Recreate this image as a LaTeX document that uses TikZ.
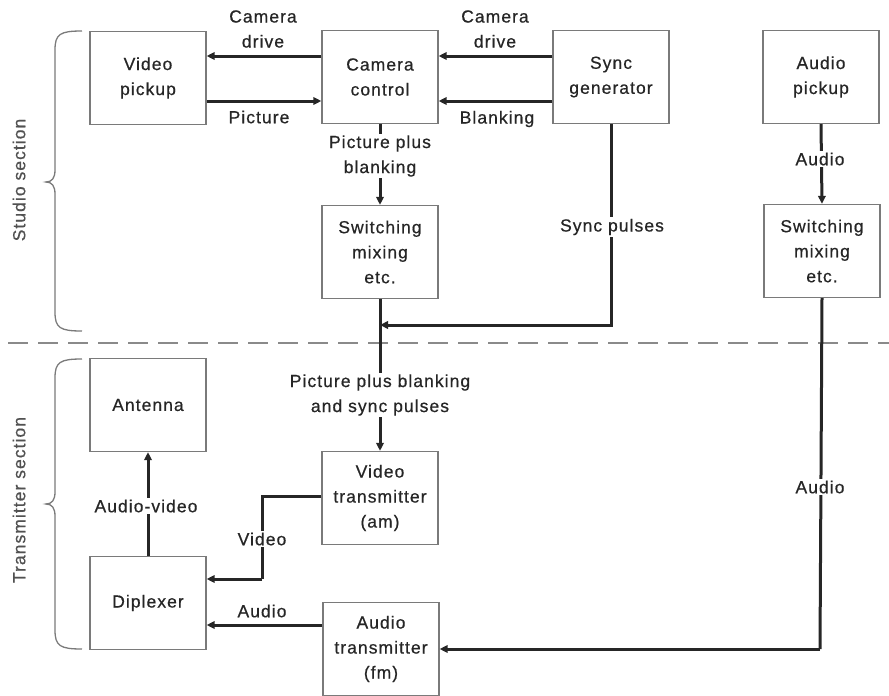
\documentclass[tikz,border=0pt]{standalone}
\usepackage{fontspec}
\setmainfont[LetterSpace=6,FakeBold=0.6]{Liberation Sans}
\usetikzlibrary{arrows.meta,calc}
\definecolor{txt}{HTML}{262626}
\definecolor{boxc}{HTML}{7A7A7A}
\definecolor{dashc}{HTML}{8A8A8A}
\begin{document}
\begin{tikzpicture}[x=1pt,y=-1pt,
  every node/.style={text=txt,font=\fontsize{17.5}{25}\selectfont},
  blk/.style={draw=boxc,line width=1.3pt,minimum width=116pt,minimum height=93pt,align=center,inner sep=0pt},
  arr/.style={line width=3pt,draw=black!85,-{Triangle[length=8pt,width=7.5pt]}},
  ln/.style={line width=3pt,draw=black!85},
  lbl/.style={fill=white,align=center,inner sep=1.5pt},
  sect/.style={rotate=90,text=txt!80}]
\useasboundingbox (0,0) rectangle (889,696);
% blocks
\node[blk] (vp) at (148,78) {Video\\pickup};
\node[blk] (cc) at (380,77) {Camera\\control};
\node[blk] (sg) at (611,77) {Sync\\generator};
\node[blk] (ap) at (821,77) {Audio\\pickup};
\node[blk] (sw1) at (380,252) {Switching\\mixing\\etc.};
\node[blk] (sw2) at (822,251) {Switching\\mixing\\etc.};
\node[blk] (ant) at (148,405) {Antenna};
\node[blk] (vt) at (380,498) {Video\\transmitter\\(am)};
\node[blk] (dip) at (148,603) {Diplexer};
\node[blk] (at) at (381,649) {Audio\\transmitter\\(fm)};
% section divider
\draw[dashc,line width=1.4pt,dash pattern=on 20pt off 10pt] (8,343) -- (889,343);
% braces
\draw[boxc,line width=1.3pt] (82,31) .. controls (60,31) and (55,34) .. (55,50) -- (55,170)
  .. controls (55,178) and (52,182) .. (46,182) .. controls (52,182) and (55,186) .. (55,194)
  -- (55,312) .. controls (55,328) and (60,331) .. (82,331);
\draw[boxc,line width=1.3pt] (82,359) .. controls (60,359) and (55,362) .. (55,378) -- (55,492)
  .. controls (55,500) and (52,504) .. (46,504) .. controls (52,504) and (55,508) .. (55,516)
  -- (55,630) .. controls (55,646) and (60,649) .. (82,649);
\node[sect] (ss) at (19,180) {Studio section};
\node[sect] (ts) at (19,500) {Transmitter section};
% studio connectors
\draw[arr] (cc.west |- 0,56) -- (vp.east |- 0,56);
\draw[arr] (vp.east |- 0,101) -- (cc.west |- 0,101);
\draw[arr] (sg.west |- 0,56) -- (cc.east |- 0,56);
\draw[arr] (sg.west |- 0,101) -- (cc.east |- 0,101);
\node[align=center] (l1) at (263,29) {Camera\\drive};
\node (l2) at (259,117) {Picture};
\node[align=center] (l3) at (495,29) {Camera\\drive};
\node (l4) at (497,119) {Blanking};
\draw[arr] (cc.south) -- (sw1.north);
\node[lbl] (l5) at (380,156) {Picture plus\\blanking};
\coordinate (j1) at (380,325);
\draw[arr] (sg.south) |- (j1);
\node[lbl] (l6) at (612,227) {Sync pulses};
\draw[arr] (ap.south) -- (sw2.north);
\node[lbl] (l7) at (820,159) {Audio};
% studio -> transmitter
\draw[arr] (sw1.south) -- (vt.north);
\node[lbl] (l8) at (380,395) {Picture plus blanking\\and sync pulses};
\coordinate (c1) at (820,649);
\draw[ln] (sw2.south) -- (c1);
\draw[arr] (c1) -- (at.east);
\node[lbl] (l9) at (820,487) {Audio};
% transmitter connectors
\coordinate (v1) at (262,496);
\coordinate (v2) at (262,579);
\draw[ln] (vt.west |- v1) -- (v1) -- (v2);
\draw[arr] (v2) -- (dip.east |- v2);
\node[lbl] (l10) at (262,539) {Video};
\draw[arr] (at.west |- 0,625) -- (dip.east |- 0,625);
\node (l11) at (262,611) {Audio};
\draw[arr] (dip.north) -- (ant.south);
\node[lbl] (l12) at (146,506) {Audio-video};
\end{tikzpicture}
\end{document}
